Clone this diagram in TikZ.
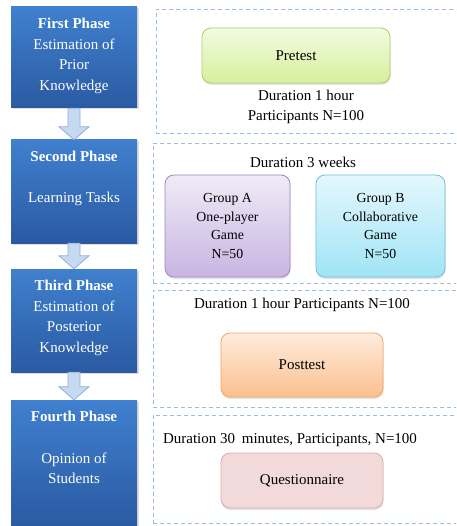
\documentclass[tikz,border=0pt]{standalone}
\usepackage{fontspec}
\setmainfont{Liberation Serif}
\usetikzlibrary{shadows,calc}
\definecolor{phasetop}{RGB}{64,128,206}
\definecolor{phasebot}{RGB}{42,90,162}
\definecolor{arrfill}{RGB}{198,217,241}
\definecolor{arredge}{RGB}{142,176,220}
\definecolor{dashc}{RGB}{150,190,232}
\definecolor{gtop}{RGB}{244,251,226}
\definecolor{gbot}{RGB}{213,240,156}
\definecolor{gedge}{RGB}{170,206,110}
\definecolor{atop}{RGB}{240,235,247}
\definecolor{abot}{RGB}{200,181,226}
\definecolor{aedge}{RGB}{160,135,192}
\definecolor{btop}{RGB}{228,247,253}
\definecolor{bbot}{RGB}{160,228,246}
\definecolor{bedge}{RGB}{110,192,216}
\definecolor{otop}{RGB}{254,236,222}
\definecolor{obot}{RGB}{251,192,142}
\definecolor{oedge}{RGB}{245,166,100}
\definecolor{qfill}{RGB}{242,218,218}
\definecolor{qedge}{RGB}{224,170,170}
\tikzset{
  phasebox/.style={top color=phasetop, bottom color=phasebot, draw=none,
    minimum width=126pt, inner sep=0pt,
    drop shadow={shadow xshift=1.5pt, shadow yshift=-1.5pt, opacity=0.25}},
  phasetext/.style={text=white, align=center, inner sep=0pt, anchor=north,
    font=\fontsize{15}{20.5}\selectfont},
  dashbox/.style={draw=dashc, dash pattern=on 4pt off 3pt, line width=0.8pt,
    inner sep=0pt},
  softbox/.style={rounded corners=9pt, inner sep=2pt, align=center,
    line width=0.8pt,
    drop shadow={shadow xshift=0.5pt, shadow yshift=-2pt, opacity=0.22}},
  infotext/.style={align=center, inner sep=0pt,
    font=\fontsize{15}{20}\selectfont},
  grouptext/.style={font=\fontsize{13.8}{18.5}\selectfont},
  blockarr/.style={fill=arrfill, draw=arredge, line width=0.8pt, line join=miter}
}
\newcommand\phasearrow[2]{%
  \path[blockarr] let \p1=(#1.south), \p2=(#2.north) in
    (\x1-6pt,\y1) -- (\x1+6pt,\y1) -- (\x1+6pt,\y2+13pt) -- (\x1+15pt,\y2+13pt)
    -- (\x1,\y2) -- (\x1-15pt,\y2+13pt) -- (\x1-6pt,\y2+13pt) -- cycle;}
\begin{document}
\begin{tikzpicture}[x=1pt,y=-1pt]
\useasboundingbox (0,0) rectangle (456,526);
\clip (0,0) rectangle (456,526);
\fill[white] (0,0) rectangle (456,526);

% dashed panels
\node[dashbox, minimum width=314pt, minimum height=124pt] (d1) at (313,71) {};
\node[dashbox, minimum width=317pt, minimum height=140pt] (d2) at (311.5,213) {};
\node[dashbox, minimum width=317pt, minimum height=117pt] (d3) at (311.5,348.5) {};
\node[dashbox, minimum width=317pt, minimum height=108pt] (d4) at (311.5,469) {};

% phase boxes
\node[phasebox, minimum height=101pt] (p1) at (74,57.5) {};
\node[phasebox, minimum height=103pt] (p2) at (74,191.5) {};
\node[phasebox, minimum height=103pt] (p3) at (74,320.5) {};
\node[phasebox, minimum height=126pt] (p4) at (74,463) {};

\node[phasetext] (t1) at ($(p1.north)+(0,11.5)$)
  {\textbf{First Phase}\\Estimation of\\Prior\\Knowledge};
\node[phasetext] (t2) at ($(p2.north)+(0,11.5)$)
  {\textbf{Second Phase}\\[20pt]Learning Tasks};
\node[phasetext] (t3) at ($(p3.north)+(0,11.5)$)
  {\textbf{Third Phase}\\Estimation of\\Posterior\\Knowledge};
\node[phasetext] (t4) at ($(p4.north)+(0,11.5)$)
  {\textbf{Fourth Phase}\\[21pt]Opinion of\\Students};

% arrows between phases
\phasearrow{p1}{p2}
\phasearrow{p2}{p3}
\phasearrow{p3}{p4}

% panel 1
\node[softbox, top color=gtop, bottom color=gbot, draw=gedge,
  minimum width=188pt, minimum height=55pt, font=\fontsize{15}{20}\selectfont]
  (pre) at (296,55.5) {Pretest};
\node[infotext] (i1) at (306,107) {Duration 1 hour\\Participants N=100};

% panel 2
\node[infotext] (i2) at (303,162) {Duration 3 weeks};
\node[softbox, grouptext, top color=atop, bottom color=abot, draw=aedge,
  minimum width=125pt, minimum height=102pt] (ga) at (227.5,226)
  {Group A\\One-player\\Game\\N=50};
\node[softbox, grouptext, top color=btop, bottom color=bbot, draw=bedge,
  minimum width=129pt, minimum height=102pt] (gb) at (380.5,226)
  {Group B\\Collaborative\\Game\\N=50};

% panel 3
\node[infotext] (i3) at (302,305) {Duration 1 hour Participants N=100};
\node[softbox, top color=otop, bottom color=obot, draw=oedge,
  minimum width=162pt, minimum height=64pt, font=\fontsize{15}{20}\selectfont]
  (post) at (302,365) {Posttest};

% panel 4
\node[infotext] (i4) at (290,440) {Duration 30\hspace{3pt} minutes, Participants, N=100};
\node[softbox, fill=qfill, draw=qedge,
  minimum width=162pt, minimum height=55pt, font=\fontsize{15}{20}\selectfont]
  (q) at (302,480.5) {Questionnaire};
\end{tikzpicture}
\end{document}
